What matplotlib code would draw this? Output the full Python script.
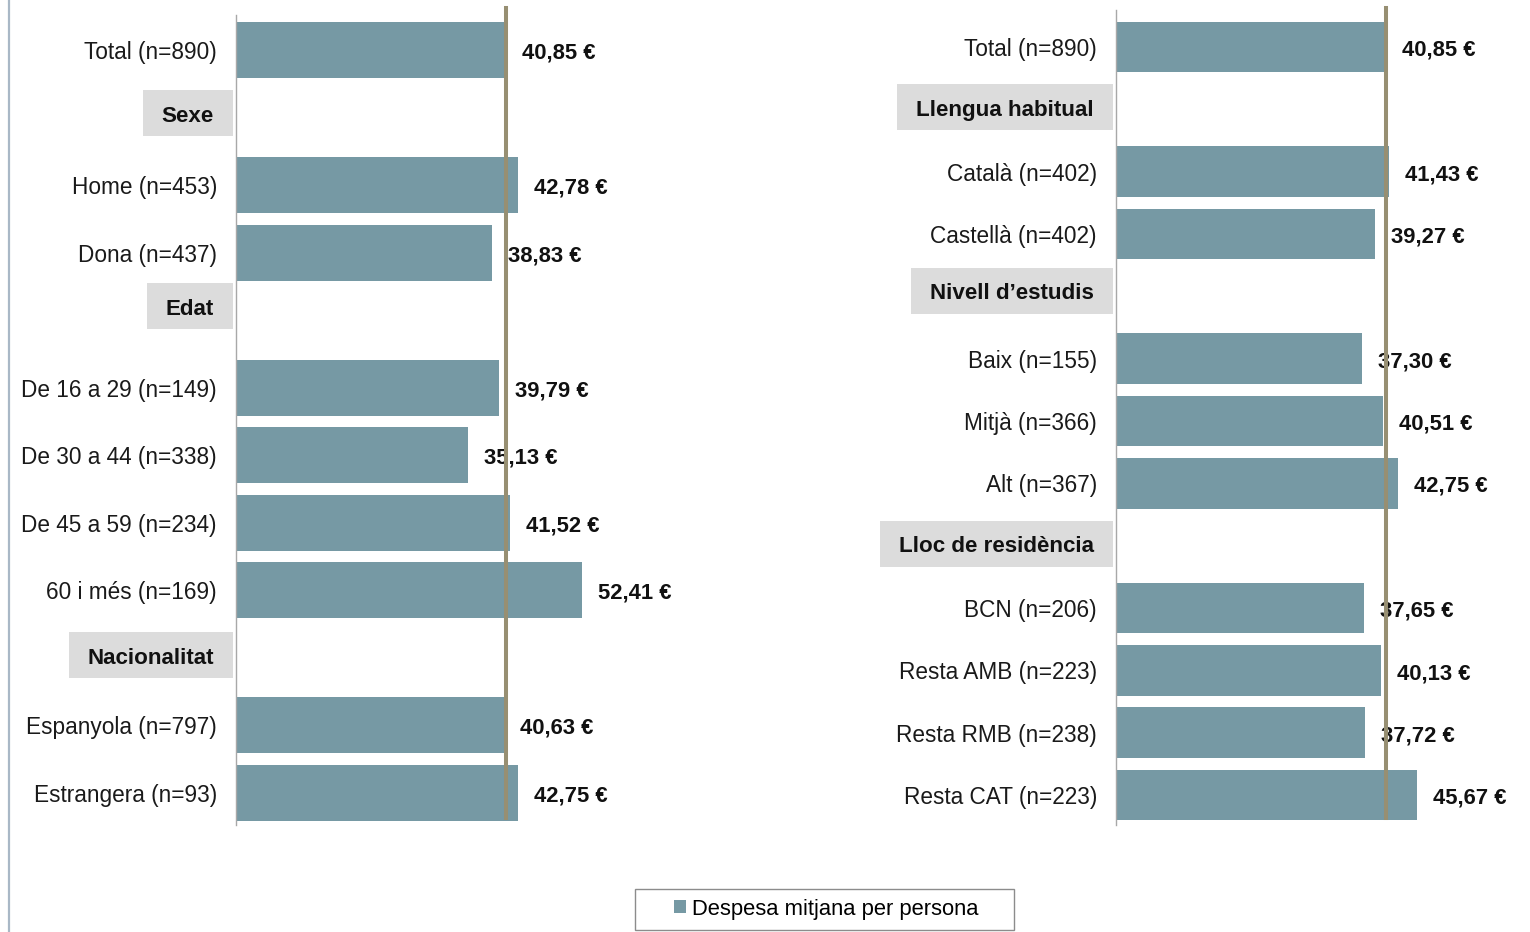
import matplotlib
matplotlib.use('Agg')
import matplotlib.pyplot as plt
from matplotlib.patches import Rectangle, Patch
from matplotlib.lines import Line2D

plt.rcParams['font.family'] = ['Liberation Sans', 'DejaVu Sans']

# data
left_labels = ['Total (n=890)', 'Home (n=453)', 'Dona (n=437)', 'De 16 a 29 (n=149)',
               'De 30 a 44 (n=338)', 'De 45 a 59 (n=234)', '60 i més (n=169)',
               'Espanyola (n=797)', 'Estrangera (n=93)']
left_values = [40.85, 42.78, 38.83, 39.79, 35.13, 41.52, 52.41, 40.63, 42.75]
left_rows = [0, 2, 3, 5, 6, 7, 8, 10, 11]
left_headers = ['Sexe', 'Edat', 'Nacionalitat']
left_header_rows = [1, 4, 9]

right_labels = ['Total (n=890)', 'Català (n=402)', 'Castellà (n=402)', 'Baix (n=155)',
                'Mitjà (n=366)', 'Alt (n=367)', 'BCN (n=206)', 'Resta AMB (n=223)',
                'Resta RMB (n=238)', 'Resta CAT (n=223)']
right_values = [40.85, 41.43, 39.27, 37.30, 40.51, 42.75, 37.65, 40.13, 37.72, 45.67]
right_rows = [0, 2, 3, 5, 6, 7, 9, 10, 11, 12]
right_headers = ['Llengua habitual', 'Nivell d\u2019estudis', 'Lloc de residència']
right_header_rows = [1, 4, 8]

total_value = 40.85
legend_label = 'Despesa mitjana per persona'

BAR = '#7699A4'
REF = '#978F72'
BOX = '#DCDCDC'
FS = 15.8
W, H = 1530, 932

fig = plt.figure(figsize=(W / 100, H / 100), dpi=100)


def px_axes(x0, x1, y0, y1):
    return fig.add_axes([x0 / W, 1 - y1 / H, (x1 - x0) / W, (y1 - y0) / H])


def panel(ax, labels, values, rows, headers, hrows, hshift, ylim, height, line_px):
    ax.set_facecolor('none')
    ax.barh(rows, values, height=height, color=BAR, zorder=2)
    ax.set_ylim(*ylim)
    ax.set_xlim(0, ax.get_position().width * W / 6.6)
    ax.set_yticks(rows)
    ax.set_yticklabels(labels, fontsize=16.3, color='#1a1a1a')
    ax.tick_params(axis='y', length=0, pad=13.7)
    ax.set_xticks([])
    for s in ['top', 'right', 'bottom']:
        ax.spines[s].set_visible(False)
    ax.spines['left'].set_color('#a8a8a8')
    ax.spines['left'].set_linewidth(1.0)
    for r, v in zip(rows, values):
        ax.annotate(f'{v:.2f}'.replace('.', ',') + ' €', xy=(v, r), xytext=(11.5, -0.5),
                    textcoords='offset points', ha='left', va='center_baseline',
                    fontsize=FS, fontweight='bold', color='#111111', zorder=3)
    # reference line (total)
    axh = ax.get_position().height * H
    ax.axvline(total_value, ymin=line_px[1] / axh, ymax=1 + line_px[0] / axh,
               color=REF, lw=2.9, zorder=6, clip_on=False)
    texts = []
    for h, r, sh in zip(headers, hrows, hshift):
        t = ax.annotate(h, xy=(0, r + sh), xycoords=('axes fraction', 'data'),
                        xytext=(-15.8, -0.5), textcoords='offset points',
                        ha='right', va='center_baseline', fontsize=16.1,
                        fontweight='bold', color='#111111', zorder=4,
                        annotation_clip=False)
        texts.append((t, r + sh))
    return texts


axL = px_axes(236, 736, 15, 825)
axR = px_axes(1116, 1516, 10, 825)

tL = panel(axL, left_labels, left_values, left_rows, left_headers, left_header_rows,
           [-0.07, -0.21, -0.04], (11.48, -0.52), 0.83, (7, 7))
tR = panel(axR, right_labels, right_values, right_rows, right_headers, right_header_rows,
           [-0.03, -0.09, -0.03], (12.48, -0.59), 0.81, (2, 7))

fig.canvas.draw()
renderer = fig.canvas.get_renderer()
for ax, texts in [(axL, tL), (axR, tR)]:
    ax_x0 = ax.get_position().x0 * W
    for t, yrow in texts:
        bb = t.get_window_extent(renderer)
        yc = ax.transData.transform((0, yrow))[1]
        x0 = bb.x0 - 19
        x1 = ax_x0 - 3
        rect = Rectangle((x0 / W, (yc - 23) / H), (x1 - x0) / W, 46 / H,
                         transform=fig.transFigure, facecolor=BOX, edgecolor='none',
                         zorder=-1)
        fig.add_artist(rect)

# legend box
fig.add_artist(Rectangle((635 / W, 1 - 930 / H), 379 / W, 41 / H, transform=fig.transFigure,
                         facecolor='white', edgecolor='#8c8c8c', lw=1.0))
fig.legend(handles=[Patch(facecolor=BAR, label=legend_label)], loc='center',
           bbox_to_anchor=(826 / W, 1 - 909 / H), frameon=False, fontsize=FS,
           handlelength=0.55, handleheight=0.55, handletextpad=0.25, borderpad=0)

# slide border on the left
fig.add_artist(Line2D([8.5 / W, 8.5 / W], [0, 1], transform=fig.transFigure,
                      color='#a9b8c6', lw=1.6))

fig.savefig('out.png', dpi=100)
